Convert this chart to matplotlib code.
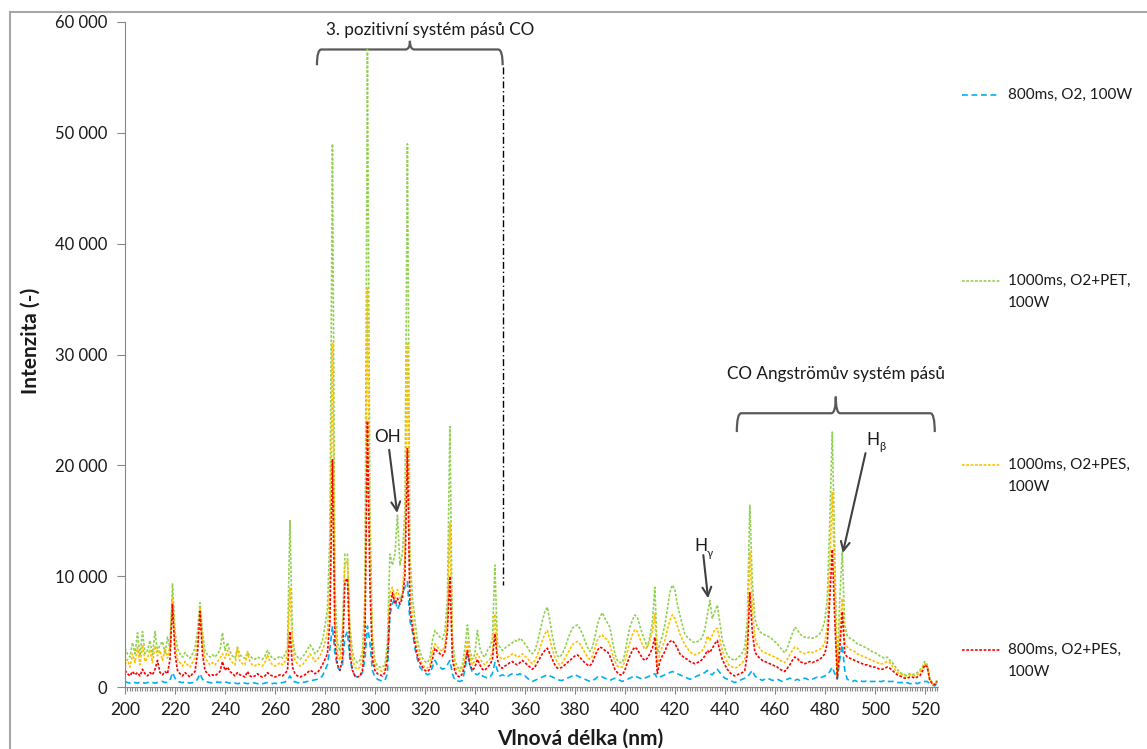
import matplotlib

matplotlib.use("Agg")
import matplotlib.pyplot as plt
import numpy as np
from matplotlib.lines import Line2D
from matplotlib.patches import PathPatch
from matplotlib.path import Path
from matplotlib.ticker import FuncFormatter, MultipleLocator

plt.rcParams["font.family"] = ["Lato", "DejaVu Sans"]

# wavelength grid, 1 nm step (nm)
wavelength = np.arange(200, 526)

# 800ms, O2, 100W
o2_800 = [
    500, 400, 350, 450, 400, 350, 450, 400, 350, 400,
    450, 400, 350, 400, 450, 500, 400, 450, 600, 1300,
    800, 500, 450, 400, 450, 400, 350, 400, 450, 700,
    1200, 700, 500, 450, 400, 350, 400, 450, 400, 500,
    450, 400, 350, 400, 350, 300, 350, 400, 350, 300,
    350, 400, 350, 300, 350, 300, 350, 400, 350, 300,
    350, 300, 350, 400, 450, 600, 1000, 600, 450, 400,
    350, 400, 450, 500, 550, 600, 650, 700, 800, 1000,
    1500, 2000, 3500, 5500, 3000, 1800, 1500, 2000, 4500, 5000,
    2500, 1500, 1000, 900, 1000, 1300, 2500, 5500, 4000, 1500,
    900, 700, 600, 550, 600, 1200, 6500, 7500, 8000, 7000,
    7500, 8500, 9000, 9500, 6000, 5000, 3500, 2500, 1800, 1500,
    1300, 1100, 1200, 1800, 2400, 2000, 1800, 1600, 1700, 2000,
    2400, 1200, 600, 550, 500, 600, 1500, 3100, 2000, 1300,
    1200, 1100, 1300, 1000, 900, 800, 900, 1200, 2200, 1500,
    1000, 1100, 1000, 900, 1100, 1200, 1200, 1100, 1200, 1000,
    1000, 800, 600, 500, 600, 700, 800, 900, 1000, 1100,
    1000, 900, 800, 700, 600, 600, 700, 800, 900, 1000,
    1100, 1000, 900, 800, 700, 600, 500, 600, 700, 900,
    1000, 900, 800, 700, 600, 700, 800, 700, 600, 500,
    600, 700, 800, 900, 1000, 900, 800, 700, 800, 900,
    1000, 1100, 1200, 800, 900, 1000, 1100, 1200, 1300, 1400,
    1300, 1200, 1100, 1000, 900, 800, 700, 800, 900, 1000,
    1100, 1200, 1300, 1500, 1200, 1100, 1400, 1600, 1300, 1000,
    800, 700, 600, 500, 400, 500, 600, 700, 800, 900,
    1200, 1500, 1000, 800, 700, 600, 700, 800, 700, 600,
    600, 700, 600, 500, 600, 700, 800, 700, 600, 700,
    600, 700, 800, 700, 600, 700, 800, 900, 800, 900,
    1000, 1100, 1400, 1800, 1200, 700, 2500, 3800, 1500, 700,
    600, 500, 600, 500, 600, 500, 500, 600, 500, 500,
    500, 600, 500, 500, 600, 500, 500, 500, 500, 400,
    400, 400, 300, 400, 300, 300, 400, 300, 400, 400,
    500, 500, 300, 200, 100, 400,
]

# 1000ms, O2+PET, 100W
pet_1000 = [
    3500, 3000, 2700, 4000, 3000, 4900, 2800, 5000, 3000, 3300,
    4200, 2900, 5000, 3200, 3800, 4100, 3000, 4500, 3500, 9300,
    5000, 3500, 3000, 2700, 3100, 2800, 2600, 3000, 3500, 5000,
    7600, 5000, 3300, 2900, 2700, 2900, 2700, 3000, 3300, 4900,
    3300, 4000, 3200, 2800, 2600, 3500, 2900, 2700, 2600, 3100,
    2800, 2600, 2500, 2700, 2600, 2500, 2800, 3300, 2900, 2600,
    2500, 2600, 2800, 2600, 2900, 3500, 15000, 4500, 3000, 2700,
    2500, 2700, 3000, 3400, 3800, 3500, 3000, 3200, 3600, 4200,
    5500, 7000, 14000, 49000, 9000, 4000, 3200, 5000, 12000, 12000,
    5500, 3200, 2400, 2200, 2400, 3200, 8000, 57500, 16000, 4500,
    2400, 1900, 1800, 1800, 2000, 4000, 12000, 11000, 12000, 15500,
    11000, 12000, 16000, 49000, 12000, 8100, 6000, 4200, 3200, 2600,
    2300, 2200, 2600, 4200, 5100, 4800, 4500, 4300, 5000, 8000,
    23500, 4500, 2400, 1800, 1600, 2000, 3500, 5600, 3300, 2500,
    3000, 5100, 3500, 2900, 2700, 3300, 3600, 4300, 11000, 4000,
    3600, 3300, 3500, 3700, 3800, 4000, 4200, 4100, 4400, 4200,
    3900, 3600, 3200, 3000, 3300, 4000, 5000, 6000, 6800, 7200,
    6000, 4600, 3500, 2800, 2700, 3000, 3500, 4200, 4800, 5300,
    5500, 5600, 5300, 4800, 4200, 3600, 3200, 3600, 4500, 5600,
    6300, 6700, 6200, 5800, 5400, 4200, 3000, 2400, 2200, 2200,
    3000, 4300, 5400, 6000, 6500, 6300, 5500, 4800, 4200, 3600,
    4500, 5800, 9000, 3000, 3900, 4600, 5600, 7000, 8500, 9200,
    8800, 7500, 6500, 5600, 4800, 4500, 4300, 4100, 4000, 4100,
    4200, 4500, 5200, 6500, 7800, 6200, 6800, 7400, 5800, 4200,
    3500, 2900, 2600, 2500, 2400, 2600, 2800, 3100, 3600, 6000,
    16400, 9500, 6200, 5400, 5000, 4800, 4700, 4600, 4500, 4300,
    4100, 3900, 3600, 3300, 3100, 3500, 4200, 4800, 5400, 5200,
    4800, 4600, 4500, 4400, 4500, 4400, 4500, 4600, 4800, 5200,
    6000, 8000, 15000, 23000, 12000, 1200, 8000, 12200, 5500, 4600,
    4400, 4300, 4100, 3900, 3800, 3700, 3600, 3500, 3300, 3200,
    3100, 3000, 2800, 2700, 2600, 2700, 2400, 2200, 1900, 1600,
    1300, 1200, 1100, 1100, 1200, 1100, 1200, 1300, 1500, 1800,
    2300, 2000, 800, 400, 200, 700,
]

# 1000ms, O2+PES, 100W
pes_1000 = [
    2000, 2500, 1800, 3000, 2200, 3600, 2000, 3800, 2300, 2600,
    3400, 2200, 3700, 2800, 3300, 2400, 3500, 2600, 3700, 8000,
    4000, 2500, 2200, 1900, 2300, 2000, 1800, 2200, 2600, 4000,
    7100, 4000, 2600, 2300, 2000, 2200, 2000, 2300, 2600, 3000,
    2600, 3300, 2500, 2200, 2000, 3600, 2300, 2100, 2000, 3200,
    2200, 2000, 1900, 2100, 2000, 1900, 2200, 2900, 2300, 2000,
    1900, 2000, 2200, 2000, 2300, 2800, 9000, 3500, 2400, 2100,
    1900, 2000, 2300, 2600, 3000, 2700, 2300, 2500, 2800, 3300,
    4000, 5000, 9000, 31000, 6000, 3000, 2400, 4000, 11000, 11500,
    4500, 2500, 1800, 1600, 1800, 2500, 6000, 36000, 12000, 3500,
    2000, 1600, 1500, 1400, 1600, 3000, 8500, 9000, 8000, 8800,
    8000, 8500, 12000, 31000, 9000, 6300, 4500, 3400, 2600, 2000,
    1800, 1700, 2000, 3200, 3900, 3600, 3400, 3200, 3800, 6000,
    14800, 3500, 1800, 1500, 1400, 1700, 2600, 4200, 2700, 2000,
    2400, 3000, 2600, 2200, 2000, 2300, 2500, 3200, 6600, 3000,
    2700, 2500, 2600, 2700, 2800, 3000, 2900, 2700, 2800, 3000,
    2800, 2600, 2300, 2100, 2400, 2900, 3500, 4200, 4800, 5100,
    4300, 3400, 2700, 2200, 2000, 2200, 2600, 3000, 3400, 3800,
    4000, 4100, 3900, 3500, 3100, 2700, 2500, 2800, 3500, 4200,
    4600, 4700, 4400, 4300, 3800, 3000, 2300, 1900, 1800, 1800,
    2300, 3200, 4000, 4700, 5200, 5000, 4400, 3800, 3400, 3600,
    4200, 5000, 6600, 1800, 3200, 3600, 4200, 5200, 6000, 6500,
    6200, 5500, 4800, 4300, 3800, 3500, 3200, 3000, 2900, 3000,
    3100, 3300, 3700, 4600, 4200, 4700, 5200, 5300, 4300, 3300,
    2700, 2200, 1900, 1800, 1700, 1800, 2000, 2200, 2500, 4500,
    12200, 7000, 4500, 3800, 3500, 3200, 3100, 3000, 2900, 2800,
    2700, 2600, 2400, 2300, 2200, 2500, 2900, 3300, 3600, 3500,
    3200, 3100, 3000, 3100, 3200, 3100, 3200, 3300, 3400, 3600,
    4000, 5500, 11000, 17600, 9000, 900, 5000, 8000, 4000, 3600,
    3400, 3300, 3200, 3000, 2900, 2800, 2700, 2600, 2500, 2400,
    2300, 2200, 2100, 2100, 2200, 2300, 2200, 1900, 1600, 1300,
    1200, 1100, 1000, 1000, 1100, 1100, 1000, 1100, 1300, 1700,
    2100, 1900, 700, 300, 200, 600,
]

# 800ms, O2+PES, 100W
pes_800 = [
    1500, 1200, 1000, 1400, 1100, 1300, 1000, 1600, 1200, 1000,
    1300, 1100, 1600, 2400, 1300, 1100, 1400, 1200, 2500, 7500,
    3000, 1500, 1200, 1000, 1300, 1100, 900, 1200, 1400, 3000,
    6800, 3000, 1500, 1200, 1000, 1100, 1000, 1200, 1400, 2300,
    1500, 1800, 1400, 1200, 1000, 1300, 1100, 1000, 900, 1400,
    1000, 900, 1000, 1200, 1000, 900, 1000, 1300, 1100, 1000,
    900, 1000, 1100, 1000, 1200, 1500, 5000, 1800, 1200, 1000,
    900, 1000, 1100, 1300, 1500, 1400, 1200, 1300, 1600, 2000,
    2500, 3000, 6000, 20500, 4000, 2000, 1500, 2500, 9500, 9800,
    3000, 1500, 1000, 900, 1000, 1500, 4000, 24000, 9000, 2500,
    1500, 1200, 1100, 1000, 1300, 2500, 7000, 8500, 7500, 8000,
    7500, 8000, 10000, 21500, 7000, 5400, 4000, 2800, 2200, 1800,
    1500, 1400, 1600, 2500, 3500, 3200, 3000, 2800, 3200, 5000,
    10000, 2500, 1400, 1000, 900, 1200, 2000, 3300, 2000, 1500,
    1800, 2500, 2000, 1600, 1500, 1800, 2000, 2500, 4800, 2500,
    1800, 1700, 1900, 2000, 2200, 2300, 2100, 2000, 2200, 2400,
    2200, 2000, 1800, 1600, 1800, 2200, 2600, 3000, 3300, 3500,
    3000, 2500, 2000, 1700, 1700, 1800, 2000, 2200, 2400, 2600,
    2800, 2900, 2700, 2400, 2200, 2000, 1900, 2200, 2800, 3300,
    3600, 3500, 3300, 3200, 2800, 2200, 1600, 1300, 1100, 1100,
    1500, 2200, 2800, 3300, 3600, 3400, 3000, 2600, 2400, 2600,
    3000, 3500, 4500, 1200, 2300, 2800, 3200, 3800, 4100, 4200,
    3900, 3500, 3000, 2800, 2600, 2500, 2300, 2200, 2100, 2200,
    2300, 2500, 2800, 3300, 3100, 3500, 3900, 4200, 3300, 2500,
    2000, 1600, 1300, 1100, 1000, 1100, 1200, 1300, 1500, 3000,
    8500, 5000, 3200, 2800, 2600, 2400, 2300, 2200, 2100, 2000,
    1900, 1800, 1600, 1500, 1400, 1700, 2000, 2400, 2700, 2600,
    2300, 2200, 2100, 2200, 2300, 2200, 2300, 2400, 2500, 2700,
    3000, 4000, 8000, 12400, 6000, 800, 3500, 6800, 3000, 2700,
    2600, 2500, 2400, 2300, 2200, 2100, 2000, 2000, 1900, 1800,
    1800, 1700, 1600, 1600, 1700, 1800, 1700, 1500, 1300, 1100,
    1000, 900, 800, 800, 900, 900, 800, 900, 1000, 1400,
    2000, 1800, 600, 300, 200, 500,
]

series_labels = [
    "800ms, O2, 100W",
    "1000ms, O2+PET,\n100W",
    "1000ms, O2+PES,\n100W",
    "800ms, O2+PES,\n100W",
]
series_colors = ["#00B0F0", "#92D050", "#FFC000", "#FF0000"]
series_dashes = [(0, (3.5, 2.2)), (0, (1.6, 1.0)), (0, (1.6, 1.0)), (0, (1.6, 1.0))]

W, H = 1147, 749
GREY = "#868686"
TEXT = "#1a1a1a"


def px(x, y):
    """Pixel position (from top-left) -> figure fraction."""
    return x / W, 1 - y / H


def brace(ax, x0, x1, xc, y_end, y_h, y_top, rx):
    verts = [
        (x0, y_end), (x0, y_h), (x0 + rx, y_h),
        (xc - rx, y_h), (xc, y_h), (xc, y_top),
        (xc, y_h), (xc + rx, y_h),
        (x1 - rx, y_h), (x1, y_h), (x1, y_end),
    ]
    codes = [Path.MOVETO, Path.CURVE3, Path.CURVE3,
             Path.LINETO, Path.CURVE3, Path.CURVE3,
             Path.CURVE3, Path.CURVE3,
             Path.LINETO, Path.CURVE3, Path.CURVE3]
    ax.add_patch(PathPatch(Path(verts, codes), fill=False,
                           edgecolor="#595959", lw=1.6, clip_on=False))


fig = plt.figure(figsize=(W / 100, H / 100), dpi=100)
ax = fig.add_axes([125 / W, 62 / H, (938 - 125) / W, (687 - 22) / H])

all_series = [o2_800, pet_1000, pes_1000, pes_800]
for values, color, dash in zip(all_series, series_colors, series_dashes):
    ax.plot(wavelength, values, color=color, lw=1.2, ls=dash)

ax.set_xlim(200, 525.3)
ax.set_ylim(0, 60000)
ax.xaxis.set_major_locator(MultipleLocator(20))
ax.xaxis.set_minor_locator(MultipleLocator(1))
ax.yaxis.set_major_locator(MultipleLocator(10000))
ax.yaxis.set_major_formatter(FuncFormatter(lambda v, _: f"{int(v):,}".replace(",", " ")))
ax.tick_params(axis="x", which="major", length=5, color=GREY, labelsize=12.5, pad=6,
               labelcolor=TEXT)
ax.tick_params(axis="x", which="minor", length=3, color=GREY, width=0.8)
ax.tick_params(axis="y", length=6, color=GREY, labelsize=12, pad=7, labelcolor=TEXT)
for side in ("top", "right"):
    ax.spines[side].set_visible(False)
for side in ("left", "bottom"):
    ax.spines[side].set_color(GREY)

# axis titles sit where Excel put them, not centred on the axes
fig.text(*px(580, 739), "Vlnová délka (nm)", ha="center", va="center",
         fontsize=15, fontweight="bold", color=TEXT)
fig.text(*px(31, 341), "Intenzita (-)", ha="center", va="center", rotation=90,
         fontsize=15, fontweight="bold", color=TEXT)

# annotations
ann_color = "#404040"
ax.text(322, 59300, "3. pozitivní systém pásů CO", ha="center", va="center",
        fontsize=12.3, color=TEXT)
brace(ax, 276.8, 351.1, 314.0, 56100, 57520, 58300, 1.8)
ax.plot([351.1, 351.1], [55900, 9200], color="black", lw=1.0, ls=(0, (5, 2, 1, 2)))

ax.text(484.4, 28200, "CO Angstr\u00f6m\u016fv systém pásů", ha="center", va="center",
        fontsize=12.3, color=TEXT)
brace(ax, 444.8, 524.0, 484.4, 23000, 24700, 26200, 1.8)

arrow = dict(arrowstyle="->", color=ann_color, lw=1.5, mutation_scale=16,
             shrinkA=0, shrinkB=0)
ax.annotate("", xy=(308.9, 15700), xytext=(305.7, 21400), arrowprops=arrow)
ax.text(305.2, 22600, "OH", ha="center", va="center", fontsize=12.3, color=TEXT)

ax.annotate("", xy=(433.3, 8000), xytext=(431.4, 11900), arrowprops=arrow)
ax.text(430.4, 12700, "H", ha="center", va="center", fontsize=12.3, color=TEXT)
ax.annotate("γ", xy=(430.4, 12700), xytext=(4.5, -5), textcoords="offset points",
            fontsize=8, color=TEXT, va="center")

ax.annotate("", xy=(487.2, 12100), xytext=(496.3, 21100), arrowprops=arrow)
ax.text(499.4, 22300, "H", ha="center", va="center", fontsize=12.3, color=TEXT)
ax.annotate("β", xy=(499.4, 22300), xytext=(4.5, -5), textcoords="offset points",
            fontsize=8, color=TEXT, va="center")

# legend, entries spread down the right side
legend_rows = [95, 281, 465, 650]
for label, color, dash, y0 in zip(series_labels, series_colors, series_dashes, legend_rows):
    (x0, yy), (x1, _) = px(962, y0), px(1000, y0)
    fig.add_artist(Line2D([x0, x1], [yy, yy], transform=fig.transFigure,
                          color=color, lw=1.2, ls=dash))
    for i, line in enumerate(label.split("\n")):
        tx, ty = px(1008, y0 + 22 * i)
        fig.text(tx, ty, line, ha="left", va="center", fontsize=11, color=TEXT)

# chart area border (cut off right and bottom)
bx, by = px(10, 12)
fig.add_artist(Line2D([bx, 1], [by, by], transform=fig.transFigure, color="#A6A6A6", lw=1.5))
fig.add_artist(Line2D([bx, bx], [by, 0], transform=fig.transFigure, color="#A6A6A6", lw=1.5))

fig.savefig("out.png", dpi=100)
